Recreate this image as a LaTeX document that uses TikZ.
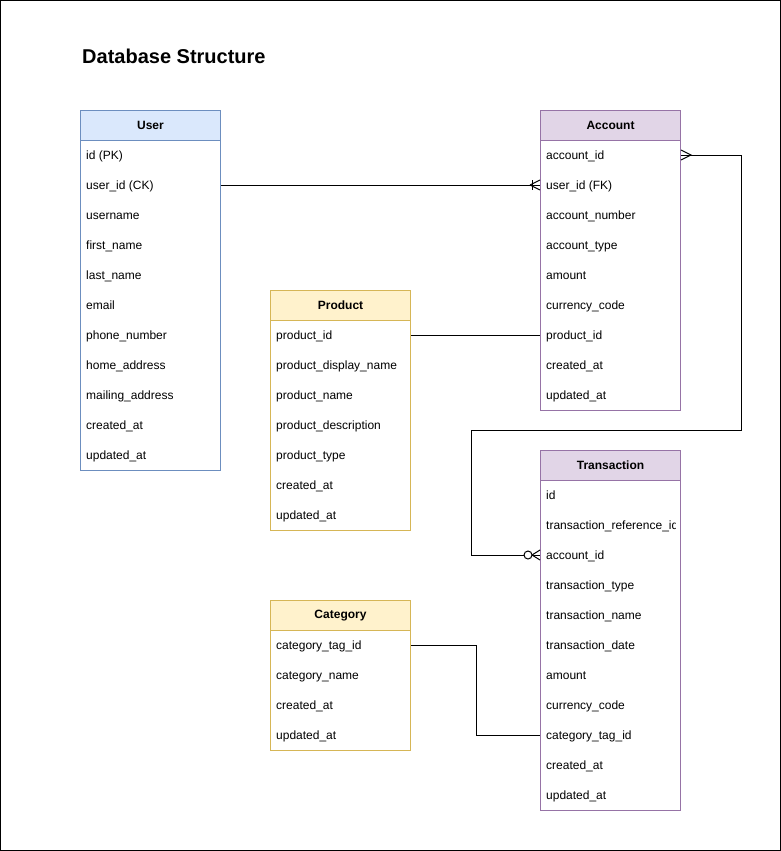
\documentclass[tikz,border=0pt]{standalone}
\usepackage{fontspec}
\setmainfont{Liberation Sans}
\usetikzlibrary{positioning, calc}
\definecolor{userfill}{HTML}{DAE8FC}
\definecolor{userdraw}{HTML}{6C8EBF}
\definecolor{accfill}{HTML}{E1D5E7}
\definecolor{accdraw}{HTML}{9673A6}
\definecolor{prodfill}{HTML}{FFF2CC}
\definecolor{proddraw}{HTML}{D6B656}
\newcommand{\fieldfont}{\fontsize{12}{14}\selectfont}
\tikzset{
    tablehead/.style={rectangle, draw, line width=1pt, inner sep=0pt, anchor=north west,
                      minimum width=140pt, minimum height=30pt, font=\fieldfont\bfseries},
    tablebody/.style={rectangle, draw, line width=1pt, inner sep=0pt, anchor=north west,
                      fill=white, minimum width=140pt},
    field/.style={anchor=west, inner sep=0pt, text height=10pt, text depth=2pt, font=\fieldfont},
    relation/.style={draw=black, line width=1pt},
}

\begin{document}
\begin{tikzpicture}[x=1pt, y=-1pt]
    \useasboundingbox (0,0) rectangle (781,851);
    \draw[line width=1pt] (0.5,0.5) rectangle (780.5,850.5);

    % Title
    \node[anchor=west, inner sep=0pt, font=\fontsize{20}{24}\selectfont\bfseries] (title) at (82,56) {Database Structure};

    % User table
    \node[tablehead, draw=userdraw, fill=userfill] (user) at (80,110) {User};
    \node[tablebody, draw=userdraw, minimum height=330pt] (userbody) at (80,140) {};
    \foreach \f [count=\i] in {id (PK), user\_id (CK), username, first\_name, last\_name, email,
                               phone\_number, home\_address, mailing\_address, created\_at, updated\_at}
        \node[field] (user\i) at (86,125+30*\i) {\f};

    % Account table
    \node[tablehead, draw=accdraw, fill=accfill] (acc) at (540,110) {Account};
    \node[tablebody, draw=accdraw, minimum height=270pt] (accbody) at (540,140) {};
    \foreach \f [count=\i] in {account\_id, user\_id (FK), account\_number, account\_type, amount,
                               currency\_code, product\_id, created\_at, updated\_at}
        \node[field] (acc\i) at (546,125+30*\i) {\f};

    % Product table
    \node[tablehead, draw=proddraw, fill=prodfill] (prod) at (270,290) {Product};
    \node[tablebody, draw=proddraw, minimum height=210pt] (prodbody) at (270,320) {};
    \foreach \f [count=\i] in {product\_id, product\_display\_name, product\_name, product\_description,
                               product\_type, created\_at, updated\_at}
        \node[field] (prod\i) at (276,305+30*\i) {\f};

    % Transaction table
    \node[tablehead, draw=accdraw, fill=accfill] (trans) at (540,450) {Transaction};
    \node[tablebody, draw=accdraw, minimum height=330pt] (transbody) at (540,480) {};
    \begin{scope}
        \clip (transbody.north west) rectangle ($(transbody.south east)+(-6,0)$);
        \foreach \f [count=\i] in {id, transaction\_reference\_id, account\_id, transaction\_type,
                                   transaction\_name, transaction\_date, amount, currency\_code,
                                   category\_tag\_id, created\_at, updated\_at}
            \node[field] (trans\i) at (546,465+30*\i) {\f};
    \end{scope}

    % Category table
    \node[tablehead, draw=proddraw, fill=prodfill] (cat) at (270,600) {Category};
    \node[tablebody, draw=proddraw, minimum height=120pt] (catbody) at (270,630) {};
    \foreach \f [count=\i] in {category\_tag\_id, category\_name, created\_at, updated\_at}
        \node[field] (cat\i) at (276,615+30*\i) {\f};

    % User -> Account (one to many)
    \coordinate (useracc) at (acc2 -| accbody.west);
    \draw[relation] (user2 -| userbody.east) -- (useracc);
    \draw[relation] ($(useracc)+(-10,0)$) -- ++(10,-5) ($(useracc)+(-10,0)$) -- ++(10,5);
    \draw[relation] ($(useracc)+(-8,-5)$) -- ++(0,10);

    % Product -> Account
    \draw[relation] (prod1 -| prodbody.east) -- (acc7 -| accbody.west);

    % Account -> Transaction (many to zero or many)
    \coordinate (acctrans) at (acc1 -| accbody.east);
    \coordinate (transacc) at (trans3 -| transbody.west);
    \draw[relation] (acctrans) -- ++(60,0) -- ++(0,275) -- ++(-270,0) |- (transacc);
    \draw[relation] ($(acctrans)+(0,-5)$) -- ++(10,5) -- ++(-10,5);
    \draw[relation] ($(transacc)+(-8,0)$) -- ++(8,-5) ($(transacc)+(-8,0)$) -- ++(8,5);
    \draw[relation, fill=white] ($(transacc)+(-12,0)$) circle (4);

    % Category -> Transaction
    \draw[relation] (cat1 -| catbody.east) -- ++(65,0) |- (trans9 -| transbody.west);
\end{tikzpicture}
\end{document}
